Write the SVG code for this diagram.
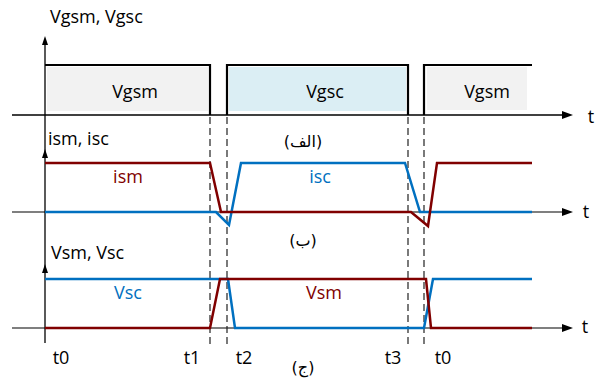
<svg xmlns="http://www.w3.org/2000/svg" width="600" height="380" viewBox="0 0 600 380">
<style>
.lbl{font-family:"Open Sans","Noto Sans",sans-serif;font-size:18px;fill:#000}
.fa{font-family:"DejaVu Sans",sans-serif;font-size:16px;fill:#000}
.red{stroke:#800000;stroke-width:2.5;fill:none;stroke-linejoin:miter}
.blue{stroke:#0070c0;stroke-width:2.5;fill:none;stroke-linejoin:miter}
.pulse{stroke:#000;stroke-width:2.2;fill:none}
.dash{stroke:#222;stroke-width:1.2;stroke-dasharray:7,4}
.ax{stroke:#000;stroke-width:1.3;fill:none}
.gax{stroke:#555;stroke-width:1.5;fill:none}
</style>
<rect width="600" height="380" fill="#fff"/>
<g id="axes">
<line class="ax" x1="12" y1="115" x2="565" y2="115"/>
<polygon points="573,115 562,111 562,119" fill="#000"/>
<line class="gax" x1="12" y1="212" x2="565" y2="212"/>
<polygon points="573,212 562,208 562,216" fill="#000"/>
<line class="gax" x1="12" y1="328" x2="565" y2="328"/>
<polygon points="573,328 562,324 562,332" fill="#000"/>
<line class="ax" x1="45" y1="40" x2="45" y2="343"/>
<polygon points="45,36 42,45 48,45" fill="#000"/>
<polygon points="45,149 42,158 48,158" fill="#000"/>
<polygon points="45,264 42,273 48,273" fill="#000"/>
</g>
<g id="pulses">
<rect x="47" y="67" width="161" height="44" fill="#f2f2f2"/>
<rect x="229" y="67" width="177" height="44" fill="#dbeef4"/>
<rect x="427" y="67" width="100" height="43" fill="#f2f2f2"/>
<polyline class="pulse" points="45,65 210,65 210,115"/>
<polyline class="pulse" points="227,115 227,65 408,65 408,115"/>
<polyline class="pulse" points="424,115 424,65 532,65"/>
</g>
<g id="connectors">
<line class="dash" x1="210" y1="117" x2="210" y2="346"/>
<line class="dash" x1="227" y1="117" x2="227" y2="346"/>
<line class="dash" x1="408" y1="117" x2="408" y2="346"/>
<line class="dash" x1="424" y1="117" x2="424" y2="346"/>
</g>
<g id="currents">
<polyline class="blue" points="45,212 216,212 229,225 241,163 405,163 420,212 532,212"/>
<polyline class="red" points="45,163 210,163 221,212 411,212 428,226 437,163 532,163"/>
</g>
<g id="voltages">
<polyline class="blue" points="45,279 228,279 235,328 424,328 433,279 532,279"/>
<polyline class="red" points="45,328 210,328 220,279 426,279 431,328 532,328"/>
</g>
<g id="labels">
<text class="lbl" x="50" y="23">Vgsm, Vgsc</text>
<text class="lbl" x="135" y="98" text-anchor="middle">Vgsm</text>
<text class="lbl" x="325" y="98" text-anchor="middle">Vgsc</text>
<text class="lbl" x="487" y="98" text-anchor="middle">Vgsm</text>
<text class="lbl" x="591" y="123" text-anchor="middle">t</text>
<text class="lbl" x="48" y="145">ism, isc</text>
<text class="lbl" x="128" y="183" text-anchor="middle" style="fill:#800000">ism</text>
<text class="lbl" x="320" y="183" text-anchor="middle" style="fill:#0070c0">isc</text>
<text class="lbl" x="586" y="218" text-anchor="middle">t</text>
<text class="lbl" x="51" y="259">Vsm, Vsc</text>
<text class="lbl" x="128" y="299" text-anchor="middle" style="fill:#0070c0">Vsc</text>
<text class="lbl" x="324" y="299" text-anchor="middle" style="fill:#800000">Vsm</text>
<text class="lbl" x="585" y="333" text-anchor="middle">t</text>
<text class="lbl" x="61" y="364" text-anchor="middle">t0</text>
<text class="lbl" x="192" y="364" text-anchor="middle">t1</text>
<text class="lbl" x="244" y="364" text-anchor="middle">t2</text>
<text class="lbl" x="393" y="364" text-anchor="middle">t3</text>
<text class="lbl" x="443" y="364" text-anchor="middle">t0</text>
<text class="fa" x="303" y="147" text-anchor="middle">(الف)</text>
<text class="fa" x="303" y="246" text-anchor="middle">(ب)</text>
<text class="fa" x="303" y="373" text-anchor="middle">(ج)</text>
</g>
</svg>
